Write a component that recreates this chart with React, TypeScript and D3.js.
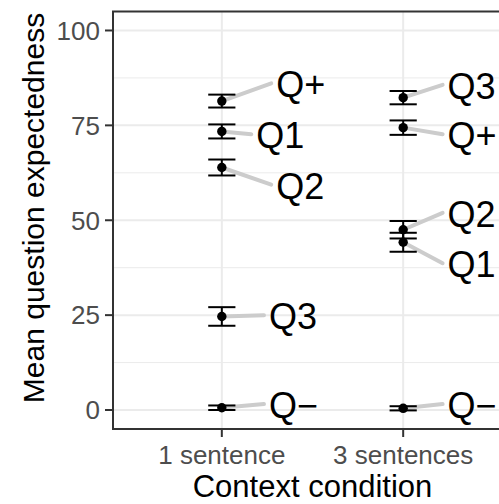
import React from 'react';
import * as d3 from 'd3';

// conditions on the x axis, questions in each condition
const conditions = ['1 sentence', '3 sentences'];
const questions = ['Q+', 'Q1', 'Q2', 'Q3', 'Q\u2212'];

// mean expectedness and standard error, by question (same order as questions)
const means1 = [81.4, 73.4, 63.9, 24.65, 0.6];
const se1 = [1.7, 1.85, 2.1, 2.45, 0.6];
const means3 = [74.4, 44.2, 47.5, 82.3, 0.45];
const se3 = [1.9, 2.5, 2.3, 1.75, 0.55];

// where the repelled labels ended up (y in data units, x offset in category steps)
const labelY1 = [85.8, 72.4, 59.1, 24.7, 1.3];
const labelY3 = [72.4, 38.4, 51.7, 85.4, 1.3];
const labelDx1 = [0.3, 0.19, 0.3, 0.26, 0.26];
const labelDx3 = [0.245, 0.245, 0.245, 0.245, 0.245];

const yTicks = [0, 25, 50, 75, 100];
const yMinor = [12.5, 37.5, 62.5, 87.5];

const W = 499;
const H = 504;
const margin = { left: 113, top: 11.5, right: -13, bottom: 75 };

const App = () => {
  const x0 = margin.left;
  const x1 = W - margin.right;
  const y0 = H - margin.bottom;
  const y1 = margin.top;

  const xScale = d3.scalePoint<string>().domain(conditions).range([x0, x1]).padding(0.6);
  const step = xScale.step();
  const yScale = d3.scaleLinear().domain([-5, 105]).range([y0, y1]);

  const rows = [
    { cond: conditions[0], means: means1, se: se1, ly: labelY1, dx: labelDx1 },
    { cond: conditions[1], means: means3, se: se3, ly: labelY3, dx: labelDx3 },
  ];

  const labelSize = 36;
  const tickSize = 26;
  const capW = 0.15 * step / 2;

  return (
    <svg width={W} height={H} style={{ position: 'absolute', left: 0, top: 0, background: '#fff' }}
      fontFamily="Liberation Sans, Arial, sans-serif">
      {/* grid */}
      {yMinor.map(v => (
        <line key={'m' + v} x1={x0} x2={x1} y1={yScale(v)} y2={yScale(v)} stroke="#ebebeb" strokeWidth={1} />
      ))}
      {yTicks.map(v => (
        <line key={'g' + v} x1={x0} x2={x1} y1={yScale(v)} y2={yScale(v)} stroke="#ebebeb" strokeWidth={2} />
      ))}
      {conditions.map(c => (
        <line key={'gx' + c} x1={xScale(c)} x2={xScale(c)} y1={y0} y2={y1} stroke="#ebebeb" strokeWidth={2} />
      ))}

      {/* label segments */}
      {rows.map(r => questions.map((q, i) => {
        const cx = xScale(r.cond)!;
        const tx = cx + r.dx[i] * step;
        return (
          <line key={'s' + r.cond + q} x1={cx} y1={yScale(r.means[i])} x2={tx - 5} y2={yScale(r.ly[i]) - 1}
            stroke="#cccccc" strokeWidth={4} strokeLinecap="round" />
        );
      }))}

      {/* error bars and points */}
      {rows.map(r => questions.map((q, i) => {
        const cx = xScale(r.cond)!;
        const lo = yScale(r.means[i] - r.se[i]);
        const hi = yScale(r.means[i] + r.se[i]);
        return (
          <g key={'e' + r.cond + q} stroke="#000" strokeWidth={2}>
            <line x1={cx} x2={cx} y1={lo} y2={hi} />
            <line x1={cx - capW} x2={cx + capW} y1={lo} y2={lo} />
            <line x1={cx - capW} x2={cx + capW} y1={hi} y2={hi} />
            <circle cx={cx} cy={yScale(r.means[i])} r={4.7} fill="#000" stroke="none" />
          </g>
        );
      }))}

      {/* labels */}
      {rows.map(r => questions.map((q, i) => {
        const tx = xScale(r.cond)! + r.dx[i] * step;
        return (
          <text key={'t' + r.cond + q} x={tx} y={yScale(r.ly[i]) + labelSize * 0.358} fontSize={labelSize} fill="#000">{q}</text>
        );
      }))}

      {/* panel border */}
      <rect x={x0} y={y1} width={x1 - x0} height={y0 - y1} fill="none" stroke="#333333" strokeWidth={2} />

      {/* y axis */}
      {yTicks.map(v => (
        <g key={'yt' + v}>
          <line x1={x0 - 8} x2={x0} y1={yScale(v)} y2={yScale(v)} stroke="#333333" strokeWidth={2} />
          <text x={x0 - 13} y={yScale(v) + tickSize * 0.358} textAnchor="end" fontSize={tickSize} fill="#4d4d4d">{v}</text>
        </g>
      ))}

      {/* x axis */}
      {conditions.map(c => (
        <g key={'xt' + c}>
          <line x1={xScale(c)} x2={xScale(c)} y1={y0} y2={y0 + 8} stroke="#333333" strokeWidth={2} />
          <text x={xScale(c)} y={464} textAnchor="middle" fontSize={tickSize} fill="#4d4d4d">{c}</text>
        </g>
      ))}

      <text x={(x0 + x1) / 2} y={497} textAnchor="middle" fontSize={31} fill="#000">Context condition</text>
      <text transform={`translate(44,208) rotate(-90)`} textAnchor="middle" fontSize={30} fill="#000">
        Mean question expectedness
      </text>
    </svg>
  );
};

export default App;
